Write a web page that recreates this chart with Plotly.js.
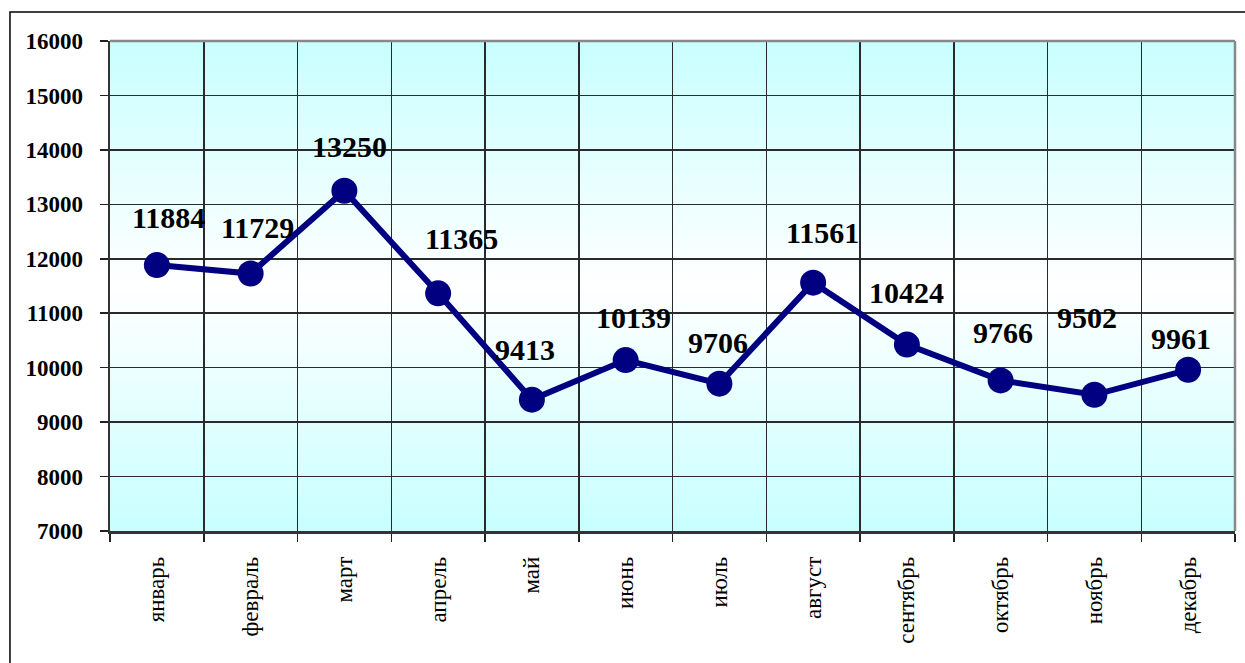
<!DOCTYPE html>
<html>
<head>
<meta charset="utf-8">
<script src="https://cdn.plot.ly/plotly-3.0.1.min.js"></script>
<style>
html,body{margin:0;padding:0;background:#fff;}
#chart{width:1245px;height:663px;}
</style>
</head>
<body>
<div id="chart"></div>
<script>
// ---- data ----
var months = ["январь","февраль","март","апрель","май","июнь","июль","август","сентябрь","октябрь","ноябрь","декабрь"];
var values = [11884, 11729, 13250, 11365, 9413, 10139, 9706, 11561, 10424, 9766, 9502, 9961];
var yTicks = [7000, 8000, 9000, 10000, 11000, 12000, 13000, 14000, 15000, 16000];

// ---- label placement tweaks (pixels: [dx, dy up]) ----
var labelShift = [[12,48],[7,46],[5,44],[23,55],[-7,50],[8,43],[-1,41],[9,50],[0,52],[2,48],[-7,77],[-7,31]];

var serif = "Liberation Serif";
var navy = "#000080";

var gradSvg = '<svg xmlns="http://www.w3.org/2000/svg" width="100" height="100" preserveAspectRatio="none">' +
  '<defs><linearGradient id="g" x1="0" y1="0" x2="0" y2="1">' +
  '<stop offset="0" stop-color="#c8ffff"/><stop offset="0.5" stop-color="#ffffff"/><stop offset="1" stop-color="#c8ffff"/>' +
  '</linearGradient></defs><rect width="100" height="100" fill="url(#g)"/></svg>';
var gradUri = "data:image/svg+xml;charset=utf-8," + encodeURIComponent(gradSvg);

var trace = {
  type: "scatter",
  mode: "lines+markers",
  x: months,
  y: values,
  line: {color: navy, width: 6},
  marker: {color: navy, size: 26},
  hoverinfo: "x+y"
};

var annotations = months.map(function(m, i){
  return {
    x: m, y: values[i], xref: "x", yref: "y",
    text: "<b>" + values[i] + "</b>", showarrow: false,
    xshift: labelShift[i][0], yshift: labelShift[i][1],
    font: {family: serif, size: 30, color: "#000"}
  };
});

var layout = {
  width: 1245, height: 663,
  margin: {l: 110, r: 10, t: 41, b: 132},
  paper_bgcolor: "#ffffff",
  plot_bgcolor: "rgba(0,0,0,0)",
  showlegend: false,
  font: {family: serif},
  xaxis: {
    type: "category",
    range: [-0.5, 11.5],
    tickson: "boundaries",
    ticks: "outside", ticklen: 8, tickwidth: 1.5, tickcolor: "#222",
    showgrid: true, gridcolor: "#2a2a2a", gridwidth: 1.5,
    showline: true, linecolor: "#333", linewidth: 2.5,
    tickangle: -90,
    ticklabelstandoff: 14,
    tickfont: {family: serif, size: 23, color: "#000"},
    fixedrange: true
  },
  yaxis: {
    range: [7000, 16000],
    tickvals: yTicks,
    ticktext: yTicks.map(function(v){ return "<b>" + v + "</b>"; }),
    ticks: "outside", ticklen: 8, tickwidth: 1.5, tickcolor: "#222",
    showgrid: true, gridcolor: "#2a2a2a", gridwidth: 1.5,
    showline: true, linecolor: "#333", linewidth: 2.5,
    zeroline: false,
    ticklabelstandoff: 12,
    tickfont: {family: serif, size: 23, color: "#000"},
    fixedrange: true
  },
  images: [{
    source: gradUri, xref: "paper", yref: "paper",
    x: 0, y: 1, sizex: 1, sizey: 1,
    xanchor: "left", yanchor: "top",
    sizing: "stretch", layer: "below"
  }],
  shapes: [
    {type: "line", xref: "paper", yref: "paper", x0: 0, x1: 1, y0: 1, y1: 1, line: {color: "#888", width: 2.5}},
    {type: "line", xref: "paper", yref: "paper", x0: 1, x1: 1, y0: 0, y1: 1, line: {color: "#888", width: 2.5}},
    {type: "rect", xref: "paper", yref: "paper", x0: -0.0889, x1: 1.05, y0: -0.4, y1: 1.0592, line: {color: "#000", width: 1.5}, fillcolor: "rgba(0,0,0,0)"}
  ],
  annotations: annotations
};

Plotly.newPlot("chart", [trace], layout, {displayModeBar: false, staticPlot: true});
</script>
</body>
</html>
